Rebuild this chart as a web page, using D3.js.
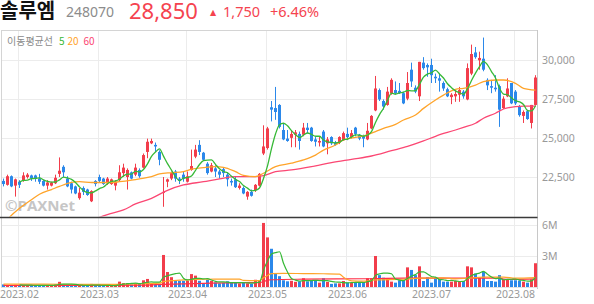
<!DOCTYPE html>
<html><head><meta charset="utf-8">
<script src="https://cdn.jsdelivr.net/npm/d3@7"></script>
<style>body{margin:0;background:#fff}svg{display:block}</style>
</head><body>
<svg id="c" width="594" height="304"></svg>
<script>
// ---------- data ----------
const title = "솔루엠", code = "248070", lastPrice = "28,850", changeAbs = "1,750", changePct = "+6.46%";
const legendLabel = "이동평균선";
const maNames = ["5", "20", "60"];

const dates = ["01.26","01.27","01.30","01.31",
"02.01","02.02","02.03","02.06","02.07","02.08","02.09","02.10","02.13","02.14","02.15","02.16","02.17","02.20","02.21","02.22","02.23","02.24","02.27","02.28",
"03.02","03.03","03.06","03.07","03.08","03.09","03.10","03.13","03.14","03.15","03.16","03.17","03.20","03.21","03.22","03.23","03.24","03.27","03.28","03.29","03.30","03.31",
"04.03","04.04","04.05","04.06","04.07","04.10","04.11","04.12","04.13","04.14","04.17","04.18","04.19","04.20","04.21","04.24","04.25","04.26","04.27","04.28",
"05.02","05.03","05.04","05.08","05.09","05.10","05.11","05.12","05.15","05.16","05.17","05.18","05.19","05.22","05.23","05.24","05.25","05.26","05.30","05.31",
"06.01","06.02","06.05","06.07","06.08","06.09","06.12","06.13","06.14","06.15","06.16","06.19","06.20","06.21","06.22","06.23","06.26","06.27","06.28","06.29","06.30",
"07.03","07.04","07.05","07.06","07.07","07.10","07.11","07.12","07.13","07.14","07.17","07.18","07.19","07.20","07.21","07.24","07.25","07.26","07.27","07.28","07.31",
"08.01","08.02","08.03","08.04","08.07","08.08"];

const opens = [22250,22000,22550,21950,22200,22250,22500,22600,22600,22400,22250,21950,21950,22100,22700,23150,22400,22100,21900,21150,21800,21700,20950,22250,
22500,22400,22100,22050,21950,22300,22750,22500,22800,22650,22950,23100,24100,24650,24550,24100,21500,22200,22400,22850,22400,22650,
22200,22950,23800,24550,24050,23350,22850,23050,22850,23000,22650,22250,22350,21800,21800,21250,21550,21650,21950,24000,
24350,26950,26900,27100,25500,24950,25000,25200,25250,25200,25650,25650,24900,24700,25400,24650,25050,24700,24700,24850,
25250,25050,25650,25200,25100,24900,25600,26750,28050,27350,27100,27850,28050,28000,27850,27500,29350,28200,27650,29800,29650,
29650,28900,28800,28500,28100,27600,27650,27750,27950,27450,29100,30450,29950,30050,28700,28300,28200,28300,26900,27650,28500,
27950,27000,26400,26700,25950,27100];
const highs = [22400,22650,22600,22400,22300,22800,22750,22650,22650,22700,22300,22300,22200,22650,23750,23250,22550,22200,21950,21800,21900,21750,21650,22300,
22650,22450,22500,22400,22300,23250,23350,23050,22850,23350,23050,24000,24950,24950,24700,24200,22500,22400,22850,22950,22500,22850,
22850,24250,24550,24850,24100,23450,23400,23250,22950,23100,22800,22400,22500,22100,21900,21600,21700,22050,22750,25800,
25700,27350,28250,27150,25950,25500,25500,25500,25400,25950,25950,25700,25050,25050,25500,25050,25100,24800,25100,25400,
25650,25500,25700,25250,25200,25950,26450,28950,28150,27450,28250,28800,28600,28500,27950,29200,29800,28350,29850,30150,29750,
30050,29100,29100,28600,28200,27850,28050,28250,28050,29750,30950,30800,30500,31400,28800,28700,29000,28400,27650,28800,28500,
28050,27100,26750,26800,27100,29000];
const lows = [21900,21950,21850,21250,21800,22200,22400,22250,22200,22050,21900,21700,21900,22050,22500,22500,21850,21450,21400,21050,21350,21300,20900,21900,
22150,22000,22000,22000,21650,22200,22500,21700,22350,22550,22450,23050,23700,24600,24100,23250,20600,21850,22300,22200,22050,22200,
22150,22900,23700,23900,23550,22650,22800,22500,22400,22500,21900,21950,21800,21700,21400,21050,21250,21550,21900,23900,
24250,26050,26150,25600,24850,24750,24400,24400,24250,25100,25300,24750,24450,24450,24400,23950,24550,24500,24600,24800,
24850,24950,25100,24850,24400,24850,25550,26700,27350,26800,27050,27750,27750,27800,27150,27400,28250,27850,27350,29350,28900,
28500,28500,27950,28000,27600,27150,27300,27300,27500,27400,29000,30050,29350,29250,28050,27850,27950,25700,26850,27600,27150,
27100,26350,25950,26150,25600,27050];
const closes = [22050,22550,21900,22350,22000,22600,22650,22400,22400,22200,21950,22150,22150,22450,22900,22800,21900,21700,21450,21500,21550,21350,21600,22050,
22250,22050,22400,22350,22200,22800,23100,22950,22400,23100,22550,23900,24750,24800,24450,23600,21550,22350,22750,22400,22250,22400,
22550,23200,24250,24100,23600,22750,23250,22850,22650,22750,22350,22150,21850,21950,21450,21550,21300,22000,22700,24450,
25600,26800,26650,25700,24900,24800,25250,25350,24800,25650,25500,24800,24750,24800,24450,24900,24650,24550,25050,25300,
25050,25300,25250,24950,24950,25450,26400,28150,27450,27000,27950,28700,27850,27850,27200,28500,28600,27950,29850,29450,29500,
29000,28800,28650,28150,27650,27750,27800,28050,27650,29450,30350,30150,30100,29350,28350,28200,28100,26800,27500,28150,27200,
27200,26450,26650,26200,27100,28850];
const volumes = [250000,180000,200000,220000,150000,200000,180000,150000,130000,150000,160000,200000,150000,250000,500000,250000,200000,180000,170000,150000,150000,130000,300000,150000,
130000,120000,130000,150000,180000,520000,380000,380000,250000,330000,300000,650000,780000,380000,220000,300000,3100000,1450000,950000,650000,600000,600000,
620000,1250000,1100000,600000,380000,700000,600000,450000,350000,400000,550000,400000,450000,350000,400000,350000,300000,700000,600000,6200000,
4800000,3700000,1300000,1050000,650000,550000,600000,500000,550000,850000,550000,650000,650000,420000,850000,500000,300000,350000,350000,580000,
420000,420000,420000,420000,500000,850000,850000,3000000,1150000,900000,850000,520000,420000,650000,650000,1900000,1650000,1150000,2000000,580000,950000,
420000,850000,780000,520000,520000,520000,580000,520000,580000,2000000,1900000,1300000,950000,1450000,580000,580000,520000,1150000,680000,750000,650000,
650000,620000,520000,420000,750000,2300000];

// moving averages (candle index -> value)
const ma20Idx = [0,1,4,7,9,12,14,17,19,22,25,27,29,32,34,37,39,42,45,47,50,53,55,58,60,63,65,68,72,75,78,80,83,85,88,90,93,95,98,100,103,105,108,110,113,115,118,120,123,125,128,130,133];
const ma20 = [19500,19800,20500,21050,21400,21700,21900,22150,22200,22150,22150,22150,22200,22300,22380,22520,22700,22780,22850,23000,23100,23160,23120,22840,22600,22520,22740,23160,23380,23590,23900,24220,24540,24860,25030,25120,25400,25600,25860,26140,26460,26880,27420,27730,28100,28160,28370,28590,28690,28690,28480,28160,28050];
const ma60Idx = [22,24,27,30,33,37,41,45,50,54,58,62,65,68,72,77,82,87,92,97,101,105,108,113,115,118,120,123,125,128,130,133];
const ma60 = [19700,19930,20180,20400,20780,21140,21650,21990,22200,22380,22520,22520,22590,22840,22950,23160,23420,23630,23840,24180,24450,24800,25100,25500,25670,25930,26250,26570,26840,26990,27030,27030];
const volMa20Idx = [0,10,20,28,33,36,39,40,41,42,44,47,50,55,59,60,64,65,66,67,70,75,80,84,85,86,87,90,93,100,104,110,113,116,120,125,128,133];
const volMa20 = [280000,270000,260000,260000,290000,330000,370000,520000,580000,620000,660000,720000,750000,760000,760000,640000,620000,900000,1120000,1300000,1320000,1300000,1280000,1250000,950000,720000,600000,560000,680000,750000,850000,880000,780000,850000,950000,950000,850000,900000];
const volMa60Idx = [0,20,35,40,50,60,64,65,67,75,90,100,110,124,125,127,133];
const volMa60 = [150000,150000,180000,250000,350000,420000,430000,530000,700000,760000,800000,850000,850000,860000,760000,740000,780000];

const priceTicks = [22500, 25000, 27500, 30000];
const volTicks = [3000000, 6000000];
const monthTickDates = ["02.01","03.02","04.03","05.02","06.01","07.03","08.01"];
const monthLabels = ["2023.02","2023.03","2023.04","2023.05","2023.06","2023.07","2023.08"];

// ---------- styles ----------
const RED = "#f23d4b", BLUE = "#2b88ea";
const C5 = "#37b937", C20 = "#ffa42a", C60 = "#fb4773";
const GRID = "#ececec", AXIS = "#c8c8c8", LABEL = "#999";

const svg = d3.select("#c");
const L = 1.5, R = 537.5, PT = 30, PB = 217, VB = 287;

const x = d3.scaleBand().domain(dates).range([L, R]).paddingInner(0.25).paddingOuter(0.125);
const cx = i => x(dates[i]) + x.bandwidth() / 2;
const y = d3.scaleLinear().domain([19947, 31883]).range([PB, PT]);
const yv = d3.scaleLinear().domain([0, 6000000]).range([VB, 225]);

const defs = svg.append("defs");
defs.append("clipPath").attr("id", "cp").append("rect").attr("x", L).attr("y", PT).attr("width", R - L).attr("height", PB - PT - 0.5);
defs.append("clipPath").attr("id", "cv").append("rect").attr("x", L).attr("y", PB + 1).attr("width", R - L).attr("height", VB - PB - 1);

// grid
const g = svg.append("g");
monthTickDates.forEach(d => {
  const xx = Math.floor(x(d) + x.bandwidth() / 2) - 0.5;
  g.append("line").attr("x1", xx).attr("x2", xx).attr("y1", PT).attr("y2", VB).attr("stroke", GRID);
});
priceTicks.forEach(t => {
  const yy = Math.round(y(t)) + 0.5;
  g.append("line").attr("x1", L).attr("x2", R).attr("y1", yy).attr("y2", yy).attr("stroke", GRID);
});
volTicks.forEach(t => {
  const yy = Math.round(yv(t)) + 0.5;
  g.append("line").attr("x1", L).attr("x2", R).attr("y1", yy).attr("y2", yy).attr("stroke", GRID);
});
// frame
g.append("line").attr("x1", 1.5).attr("x2", R).attr("y1", PT + 0.5).attr("y2", PT + 0.5).attr("stroke", "#d4d4d4");
g.append("line").attr("x1", 1.5).attr("x2", 1.5).attr("y1", PT).attr("y2", VB + 1).attr("stroke", "#d4d4d4");
g.append("line").attr("x1", R).attr("x2", R).attr("y1", PT).attr("y2", VB + 2).attr("stroke", AXIS);
g.append("line").attr("x1", 1.5).attr("x2", R).attr("y1", VB + 0.5).attr("y2", VB + 0.5).attr("stroke", "#e2e2e2");

// watermark
svg.append("text").attr("x", 5).attr("y", 211).attr("font-family", "Open Sans, sans-serif").attr("font-weight", 700)
  .attr("font-size", 15).attr("fill", "#c6c6c6").attr("textLength", 70).attr("lengthAdjust", "spacingAndGlyphs").text("©PAXNet");

// legend
const lg = svg.append("g").attr("font-family", "Noto Sans CJK KR, Noto Sans, sans-serif").attr("font-size", 10);
lg.append("text").attr("x", 7).attr("y", 45).attr("fill", "#8a8a8a").text(legendLabel);
[[59, C5], [67.5, C20], [83.5, C60]].forEach((p, k) => lg.append("text").attr("x", p[0]).attr("y", 45).attr("fill", p[1]).text(maNames[k]));

// candles
const idx = d3.range(dates.length);
const col = i => closes[i] >= opens[i] ? RED : BLUE;
const cg = svg.append("g").attr("clip-path", "url(#cp)");
cg.selectAll("rect.w").data(idx).join("rect").attr("class", "w")
  .attr("x", i => x(dates[i]) + 1).attr("width", 1)
  .attr("y", i => y(highs[i])).attr("height", i => Math.max(1, y(lows[i]) - y(highs[i])))
  .attr("fill", col);
cg.selectAll("rect.b").data(idx).join("rect").attr("class", "b")
  .attr("x", i => x(dates[i])).attr("width", x.bandwidth())
  .attr("y", i => y(Math.max(opens[i], closes[i])))
  .attr("height", i => Math.max(1, Math.abs(y(opens[i]) - y(closes[i]))))
  .attr("fill", col);

// MA lines (price)
const ma5 = idx.filter(i => i >= 4).map(i => [i, d3.mean(closes.slice(i - 4, i + 1))]);
const lineP = d3.line().x(d => cx(d[0])).y(d => y(d[1]));
cg.append("path").attr("d", lineP.curve(d3.curveMonotoneX)(ma60Idx.map((k, j) => [k, ma60[j]]))).attr("fill", "none").attr("stroke", C60).attr("stroke-width", 1.3);
cg.append("path").attr("d", lineP.curve(d3.curveMonotoneX)(ma20Idx.map((k, j) => [k, ma20[j]]))).attr("fill", "none").attr("stroke", C20).attr("stroke-width", 1.3);
cg.append("path").attr("d", lineP.curve(d3.curveMonotoneX)(ma5)).attr("fill", "none").attr("stroke", C5).attr("stroke-width", 1.3);

// volume bars
const vg = svg.append("g").attr("clip-path", "url(#cv)");
vg.selectAll("rect").data(idx).join("rect")
  .attr("x", i => x(dates[i])).attr("width", x.bandwidth())
  .attr("y", i => yv(volumes[i])).attr("height", i => VB - yv(volumes[i]))
  .attr("fill", col);
const vma5 = idx.filter(i => i >= 4).map(i => [i, d3.mean(volumes.slice(i - 4, i + 1))]);
const lineV = d3.line().x(d => cx(d[0])).y(d => yv(d[1])).curve(d3.curveMonotoneX);
vg.append("path").attr("d", lineV(volMa60Idx.map((k, j) => [k, volMa60[j]]))).attr("fill", "none").attr("stroke", "#ff3048").attr("stroke-width", 1.2);
vg.append("path").attr("d", lineV(volMa20Idx.map((k, j) => [k, volMa20[j]]))).attr("fill", "none").attr("stroke", C20).attr("stroke-width", 1.2);
vg.append("path").attr("d", lineV(vma5)).attr("fill", "none").attr("stroke", C5).attr("stroke-width", 1.2);

// separator
svg.append("line").attr("x1", 0).attr("x2", R).attr("y1", PB + 0.5).attr("y2", PB + 0.5).attr("stroke", "#3a3a3a").attr("stroke-width", 1.5);

// axes labels
const ax = svg.append("g").attr("font-family", "Noto Sans, sans-serif").attr("font-size", 10.5).attr("fill", LABEL);
priceTicks.forEach(t => ax.append("text").attr("x", 542).attr("y", y(t) + 4).text(d3.format(",")(t)));
volTicks.forEach(t => ax.append("text").attr("x", 542).attr("y", yv(t) + 4).text(t / 1e6 + "M"));
monthTickDates.forEach((d, k) => ax.append("text").attr("x", x(d) + x.bandwidth() / 2).attr("y", 298).attr("text-anchor", "middle").text(monthLabels[k]));

// header
const hd = svg.append("g");
hd.append("text").attr("x", 0).attr("y", 17.5).attr("font-family", "Noto Sans CJK KR, sans-serif").attr("font-weight", 700).attr("font-size", 20).attr("fill", "#111").text(title);
hd.append("text").attr("x", 66).attr("y", 17).attr("font-family", "Noto Sans, sans-serif").attr("font-size", 14).attr("fill", "#8c8c8c").text(code);
hd.append("text").attr("x", 129).attr("y", 18.5).attr("font-family", "Noto Sans, sans-serif").attr("font-size", 22).attr("fill", "#f5434f").text(lastPrice);
hd.append("text").attr("x", 210).attr("y", 15).attr("font-family", "DejaVu Sans, sans-serif").attr("font-size", 8).attr("fill", "#f5434f").text("▲");
hd.append("text").attr("x", 223).attr("y", 17).attr("font-family", "Noto Sans, sans-serif").attr("font-size", 14.5).attr("fill", "#f5434f").text(changeAbs);
hd.append("text").attr("x", 270).attr("y", 17).attr("font-family", "Noto Sans, sans-serif").attr("font-size", 14.5).attr("fill", "#f5434f").text(changePct);
</script>
</body></html>
